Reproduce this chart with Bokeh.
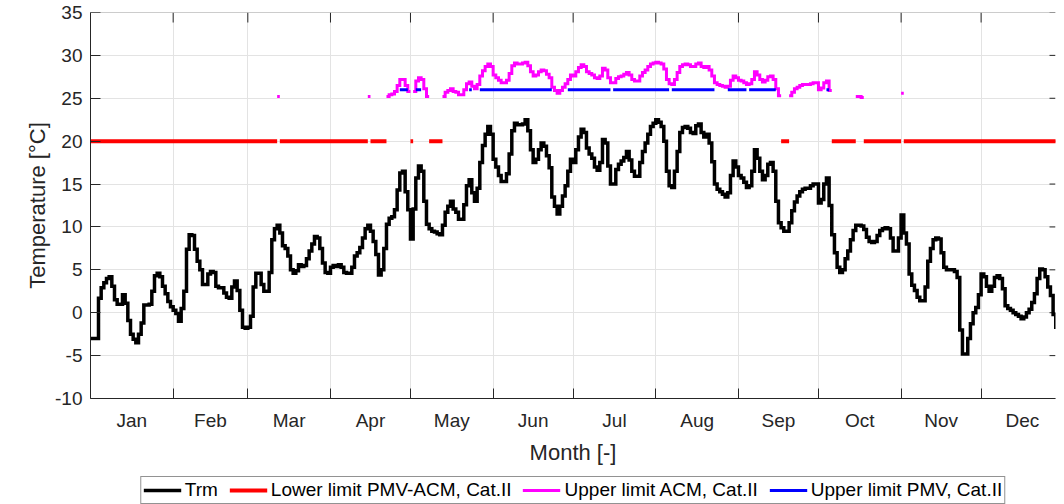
from bokeh.plotting import figure
from bokeh.models import Range1d, FixedTicker, Legend, LegendItem, Span
from bokeh.layouts import column
from bokeh.embed import file_html
from bokeh.resources import INLINE

# ---------------- data ----------------
months = ["Jan", "Feb", "Mar", "Apr", "May", "Jun",
          "Jul", "Aug", "Sep", "Oct", "Nov", "Dec"]
month_days = [31, 28, 31, 30, 31, 30, 31, 31, 30, 31, 30, 31]

# daily running mean outdoor temperature Trm [°C], day 0 = 1 Jan
trm = [
    -3.0, -3.0, -3.0, 1.7, 2.9, 3.5, 4.0, 4.2, 3.1, 1.5,
    1.0, 1.0, 2.1, 1.1, -0.9, -2.5, -3.1, -3.5, -2.5, -1.2,
    0.9, 0.9, 1.0, 2.5, 4.3, 4.6, 4.2, 3.1, 2.2, 1.3,
    0.7, 0.3, -0.1, -1.0, 0.5, 2.5, 7.4, 9.1, 9.0, 7.4,
    6.0, 5.0, 3.3, 3.3, 4.5, 4.8, 4.7, 3.1, 2.9, 2.9,
    2.3, 1.8, 1.7, 3.0, 3.7, 2.6, 0.3, -1.7, -1.8, -1.7,
    -0.4, 3.0, 4.6, 4.6, 3.3, 2.5, 2.5, 4.7, 8.5, 9.8,
    10.2, 9.3, 7.8, 7.5, 6.6, 5.0, 4.6, 4.9, 5.6, 5.4,
    5.5, 6.3, 7.2, 8.0, 8.9, 8.7, 7.5, 5.8, 4.7, 4.6,
    5.3, 5.5, 5.4, 5.6, 5.3, 4.7, 4.6, 4.6, 5.3, 6.6,
    7.0, 7.6, 8.7, 9.8, 10.2, 9.5, 8.3, 6.8, 4.4, 5.0,
    7.5, 10.3, 11.0, 11.2, 12.0, 14.3, 16.3, 16.5, 14.1, 12.0,
    8.6, 12.1, 15.7, 17.1, 16.5, 13.0, 10.3, 9.8, 9.5, 9.4,
    9.2, 9.1, 10.2, 11.7, 12.4, 13.0, 12.1, 11.7, 10.9, 10.9,
    12.6, 14.8, 15.5, 14.0, 13.0, 14.5, 17.5, 19.5, 20.8, 21.7,
    20.8, 17.9, 17.0, 16.0, 15.3, 15.3, 16.2, 18.5, 21.2, 22.1,
    21.9, 21.9, 22.0, 22.5, 21.2, 19.0, 17.5, 17.9, 19.0, 19.8,
    19.4, 18.3, 16.9, 13.5, 12.4, 11.5, 12.4, 13.6, 14.8, 16.5,
    17.9, 17.5, 19.0, 20.5, 21.4, 21.0, 19.2, 18.5, 18.0, 17.0,
    16.6, 17.5, 20.2, 19.8, 17.1, 15.0, 15.0, 16.7, 17.3, 17.7,
    18.1, 18.8, 17.8, 16.5, 15.9, 15.9, 17.5, 18.8, 19.8, 20.8,
    21.7, 22.1, 22.5, 22.2, 21.7, 20.0, 16.5, 14.8, 14.6, 16.5,
    18.8, 21.0, 21.6, 21.7, 21.5, 21.0, 20.9, 21.8, 22.0, 21.0,
    20.5, 20.8, 19.8, 17.6, 15.0, 14.4, 14.1, 13.8, 13.5, 14.0,
    16.0, 17.7, 17.0, 16.0, 15.7, 15.2, 14.6, 14.8, 16.5, 19.0,
    18.0, 16.5, 15.5, 16.0, 17.3, 17.5, 16.5, 13.0, 10.5, 9.9,
    9.5, 9.5, 10.5, 11.9, 12.9, 13.6, 14.1, 14.4, 14.5, 14.5,
    14.8, 15.0, 15.0, 12.8, 13.2, 15.0, 15.7, 12.5, 9.1, 7.0,
    5.3, 4.7, 5.0, 6.3, 7.2, 8.5, 9.6, 10.2, 10.2, 10.1,
    9.7, 8.8, 8.3, 8.2, 8.3, 9.0, 9.6, 9.8, 9.9, 9.8,
    8.7, 7.2, 7.2, 8.7, 11.4, 9.3, 8.0, 4.5, 3.2, 2.6,
    1.8, 1.4, 1.4, 3.0, 6.0, 7.5, 8.5, 8.7, 8.6, 7.0,
    5.3, 5.0, 5.0, 5.0, 4.8, 4.1, -2.0, -4.8, -4.8, -3.0,
    -1.3, 0.0, 0.6, 2.1, 4.5, 4.2, 3.1, 2.5, 3.1, 4.1,
    4.3, 4.0, 2.8, 0.8, 0.5, 0.3, 0.0, -0.2, -0.4, -0.7,
    -0.5, 0.0, 0.4, 1.2, 2.2, 4.0, 5.1, 5.0, 4.2, 3.0,
    2.0, -0.2, -1.7,
]

# Lower limit PMV-ACM, Cat.II: constant value, present on these day ranges (inclusive)
lower_value = 20.0
lower_ranges = [(0, 69), (71, 103), (105, 110), (120, 120), (127, 131),
                (259, 261), (278, 286), (290, 303), (305, 362)]

# Upper limit ACM, Cat.II: (first day, daily values)
acm_runs = [
    (70, [25.2]),
    (104, [25.2]),
    (111, [25.2, 25.4, 25.5, 25.8, 26.5, 27.2, 27.2, 26.5, 25.8]),
    (121, [25.8, 27.0, 27.4, 27.2, 26.1, 25.2]),
    (132, [25.2, 25.7, 25.9, 26.1, 25.8, 25.7, 25.4, 25.4,
           26.0, 26.7, 26.9, 26.4, 26.1, 26.6, 27.6, 28.2, 28.7, 29.0,
           28.7, 27.7, 27.4, 27.1, 26.8, 26.8, 27.1, 27.9, 28.8, 29.1,
           29.0, 29.0, 29.1, 29.2, 28.8, 28.1, 27.6, 27.7, 28.1, 28.3,
           28.2, 27.8, 27.4, 26.3, 25.9, 25.6, 25.9, 26.3, 26.7, 27.2,
           27.7, 27.6, 28.1, 28.6, 28.9, 28.7, 28.1, 27.9, 27.7, 27.4,
           27.3, 27.6, 28.5, 28.3, 27.4, 26.8, 26.8, 27.3, 27.5, 27.6,
           27.8, 28.0, 27.7, 27.2, 27.0, 27.0, 27.6, 28.0, 28.3, 28.7,
           29.0, 29.1, 29.2, 29.1, 29.0, 28.4, 27.2, 26.7, 26.6, 27.2,
           28.0, 28.7, 28.9, 29.0, 28.9, 28.7, 28.7, 29.0, 29.1, 28.7,
           28.6, 28.7, 28.3, 27.6, 26.8, 26.6, 26.5, 26.4, 26.3, 26.4,
           27.1, 27.6, 27.4, 27.1, 27.0, 26.8, 26.6, 26.7, 27.2, 28.1,
           27.7, 27.2, 26.9, 27.1, 27.5, 27.6, 27.2, 26.1, 25.3]),
    (262, [25.3, 25.7, 26.1, 26.3, 26.5, 26.6, 26.6, 26.6, 26.7, 26.8,
           26.8, 26.0, 26.2, 26.8, 27.0, 25.9]),
    (287, [25.2, 25.2, 25.1]),
    (304, [25.6]),
]

# Upper limit PMV, Cat.II: constant value, present on these day ranges (inclusive)
pmv_value = 26.0
pmv_ranges = [(116, 118), (122, 123), (142, 142), (146, 172), (179, 194),
              (196, 216), (218, 233), (239, 245), (247, 256), (276, 276)]

y_ticks = [-10, -5, 0, 5, 10, 15, 20, 25, 30, 35]

series_labels = ["Trm", "Lower limit PMV-ACM, Cat.II",
                 "Upper limit ACM, Cat.II", "Upper limit PMV, Cat.II"]

# ---------------- helpers ----------------
def step_path(start, vals):
    xs, ys = [], []
    for i, v in enumerate(vals):
        xs += [start + i, start + i + 1]
        ys += [v, v]
    return xs, ys

month_starts = []
acc = 0
for d in month_days:
    month_starts.append(acc)
    acc += d
month_mids = [s + d / 2 for s, d in zip(month_starts, month_days)]

X_END = 361.9
Y_MIN, Y_MAX = -10, 35
FONT = "Liberation Sans"
AX = "#262626"
STYLES = [dict(line_color="black", line_width=3.5, line_join="miter"),
          dict(line_color="#ff0000", line_width=4),
          dict(line_color="#ff00ff", line_width=3, line_join="miter"),
          dict(line_color="#0000ff", line_width=3)]

# series geometry (step paths built from the data above)
tx, ty = step_path(0, trm)
lx, ly = [], []
for a, b in lower_ranges:
    xs, ys = step_path(a, [lower_value] * (b - a + 1))
    lx.append(xs); ly.append(ys)
mx, my = [], []
for s, vals in acm_runs:
    xs, ys = step_path(s, vals)
    mx.append(xs); my.append(ys)
bx, by = [], []
for a, b in pmv_ranges:
    xs, ys = step_path(a, [pmv_value] * (b - a + 1))
    bx.append(xs); by.append(ys)


def draw_series(fig):
    return [fig.multi_line([tx], [ty], **STYLES[0]),
            fig.multi_line(lx, ly, **STYLES[1]),
            fig.multi_line(mx, my, **STYLES[2]),
            fig.multi_line(bx, by, **STYLES[3])]


# ---------------- main axes ----------------
p = figure(width=1056, height=470,
           x_range=Range1d(0, X_END), y_range=Range1d(Y_MIN, Y_MAX),
           output_backend="svg", toolbar_location=None,
           min_border_left=66, min_border_right=1, min_border_top=12,
           min_border_bottom=72)
p.outline_line_color = None
p.background_fill_color = "white"
p.border_fill_color = "white"

p.xgrid.ticker = FixedTicker(ticks=month_starts[1:])
p.ygrid.ticker = FixedTicker(ticks=y_ticks)
p.xgrid.grid_line_color = "#e3e3e3"
p.ygrid.grid_line_color = "#e3e3e3"

# box top line and inward ticks on top / right (MATLAB style box)
p.add_layout(Span(location=Y_MAX, dimension="width", line_color="#9a9a9a", line_width=1))
p.ray(x=month_starts[1:], y=[Y_MAX] * 11, length=10, length_units="screen",
      angle=-90, angle_units="deg", line_color=AX, line_width=1)
p.ray(x=[X_END] * len(y_ticks), y=y_ticks, length=6, length_units="screen",
      angle=180, angle_units="deg", line_color=AX, line_width=1)

draw_series(p)

xa = p.xaxis[0]
xa.ticker = FixedTicker(ticks=month_mids, minor_ticks=month_starts[1:])
xa.major_label_overrides = {m: n for m, n in zip(month_mids, months)}
xa.major_tick_in = 0
xa.major_tick_out = 0
xa.minor_tick_in = 10
xa.minor_tick_out = 0
xa.minor_tick_line_color = AX
xa.axis_line_color = AX
xa.major_label_standoff = 11
xa.major_label_text_font = FONT
xa.major_label_text_font_size = "19px"
xa.major_label_text_color = AX
xa.axis_label = "Month [-]"
xa.axis_label_text_font = FONT
xa.axis_label_text_font_size = "22px"
xa.axis_label_text_font_style = "normal"
xa.axis_label_text_color = AX
xa.axis_label_standoff = 6

ya = p.yaxis[0]
ya.ticker = FixedTicker(ticks=y_ticks)
ya.major_label_overrides = {t: str(t) for t in y_ticks}
ya.major_tick_in = 10
ya.major_tick_out = 0
ya.major_tick_line_color = AX
ya.axis_line_color = AX
ya.major_label_standoff = 8
ya.major_label_text_font = FONT
ya.major_label_text_font_size = "19px"
ya.major_label_text_color = AX
ya.axis_label = "Temperature [°C]"
ya.axis_label_text_font = FONT
ya.axis_label_text_font_size = "22px"
ya.axis_label_text_font_style = "normal"
ya.axis_label_text_color = AX
ya.axis_label_standoff = 2

# ---------------- legend strip below the axes ----------------
# same series drawn in a strip whose y-range excludes them, so only the legend shows
q = figure(width=1056, height=34, x_range=Range1d(0, X_END),
           y_range=Range1d(Y_MAX + 100, Y_MAX + 101),
           output_backend="svg", toolbar_location=None,
           x_axis_type=None, y_axis_type=None,
           min_border_left=90, min_border_right=0, min_border_top=0,
           min_border_bottom=0)
q.outline_line_color = None
q.grid.visible = False
q_renderers = draw_series(q)
legend = Legend(items=[LegendItem(label=l, renderers=[r])
                       for l, r in zip(series_labels, q_renderers)],
                orientation="horizontal", location="top_center",
                label_text_font=FONT, label_text_font_size="19px",
                label_text_color="black",
                glyph_width=38, glyph_height=18, label_standoff=4, spacing=11,
                padding=2, margin=6, border_line_color=AX, border_line_width=1,
                background_fill_color="white", background_fill_alpha=1.0)
q.add_layout(legend, "center")

open("out.html", "w").write(file_html(column(p, q, spacing=0), INLINE))
